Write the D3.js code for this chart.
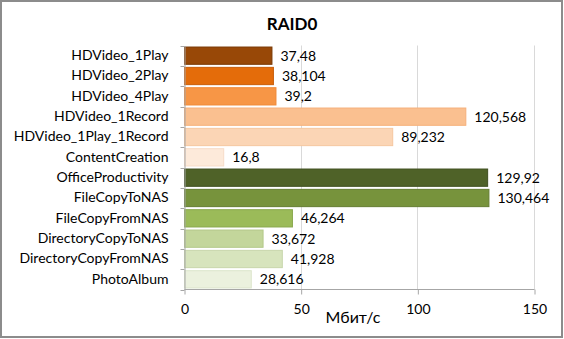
<!DOCTYPE html>
<html>
<head>
<meta charset="utf-8">
<script src="https://cdn.jsdelivr.net/npm/d3@7"></script>
<style>
  html, body { margin: 0; padding: 0; background: #fff; }
  svg { display: block; }
  text { font-family: Lato, "Open Sans", sans-serif; fill: #000; }
</style>
</head>
<body>
<svg id="chart" width="564" height="339"></svg>
<script>
// Throughput per test, Mbit/s
const categories = [
  "HDVideo_1Play", "HDVideo_2Play", "HDVideo_4Play", "HDVideo_1Record",
  "HDVideo_1Play_1Record", "ContentCreation", "OfficeProductivity",
  "FileCopyToNAS", "FileCopyFromNAS", "DirectoryCopyToNAS",
  "DirectoryCopyFromNAS", "PhotoAlbum"
];
const values = [37.48, 38.104, 39.2, 120.568, 89.232, 16.8, 129.92, 130.464, 46.264, 33.672, 41.928, 28.616];
const valueLabels = ["37,48", "38,104", "39,2", "120,568", "89,232", "16,8", "129,92", "130,464", "46,264", "33,672", "41,928", "28,616"];
const fills = ["#984807", "#E46C0A", "#F79646", "#FAC090", "#FBD5B5", "#FDEADA",
               "#4F6228", "#77933C", "#9BBB59", "#C3D69B", "#D7E4BD", "#EBF1DE"];
const strokes = ["#7A3905", "#C75C08", "#F08A38", "#F5B07A", "#F5C7A0", "#F7DCC8",
                 "#3F4E20", "#647D32", "#8AA84E", "#B3C88A", "#C8D6AC", "#DCE5CC"];
const xTicks = [0, 50, 100, 150];
const title = "RAID0";
const unitLabel = "Мбит/с";

const svg = d3.select("#chart");
const W = 564, H = 339;

// frame
svg.append("rect")
  .attr("x", 1).attr("y", 1).attr("width", W - 3).attr("height", H - 3)
  .attr("fill", "#fff").attr("stroke", "#8C8C8C").attr("stroke-width", 2);

const plot = { left: 184, right: 534, top: 45.5, bottom: 289.5 };

const x = d3.scaleLinear().domain([0, 150]).range([plot.left, plot.right]);
const y = d3.scaleBand().domain(categories).range([plot.top, plot.bottom])
  .paddingInner(0.15).paddingOuter(0.075);
const band = d3.scaleBand().domain(categories).range([plot.top, plot.bottom]);

// vertical gridlines
svg.append("g").selectAll("line")
  .data(xTicks.filter(t => t > 0))
  .join("line")
  .attr("x1", d => Math.round(x(d)) + 0.5).attr("x2", d => Math.round(x(d)) + 0.5)
  .attr("y1", plot.top).attr("y2", plot.bottom)
  .attr("stroke", "#D9D9D9").attr("stroke-width", 1);

// bars
svg.append("g").selectAll("rect")
  .data(categories)
  .join("rect")
  .attr("x", x(0) + 0.5)
  .attr("y", d => y(d))
  .attr("width", (d, i) => x(values[i]) - x(0))
  .attr("height", y.bandwidth())
  .attr("fill", (d, i) => fills[i])
  .attr("stroke", (d, i) => strokes[i])
  .attr("stroke-width", 1);

// value labels
svg.append("g").selectAll("text")
  .data(categories)
  .join("text")
  .attr("x", (d, i) => x(values[i]) + 9)
  .attr("y", d => y(d) + y.bandwidth() / 2)
  .attr("dy", "0.36em")
  .attr("font-size", 14)
  .text((d, i) => valueLabels[i]);

// category axis
const yAxis = d3.axisLeft(band).tickSize(0).tickPadding(16);
const gy = svg.append("g").attr("transform", `translate(${plot.left + 0.5},0)`).call(yAxis);
gy.select(".domain").attr("stroke", "#A6A6A6");
gy.selectAll("text").attr("font-size", 14).attr("font-family", "Lato, 'Open Sans', sans-serif").attr("fill", "#000");
// boundary ticks between categories
gy.append("g").selectAll("line")
  .data(d3.range(categories.length + 1))
  .join("line")
  .attr("x1", -4).attr("x2", 0)
  .attr("y1", i => Math.round(plot.top + i * band.step()) + 0.5)
  .attr("y2", i => Math.round(plot.top + i * band.step()) + 0.5)
  .attr("stroke", "#A6A6A6");

// value axis
const xAxis = d3.axisBottom(x).tickValues(xTicks).tickSize(5).tickPadding(10);
const gx = svg.append("g").attr("transform", `translate(0.5,${plot.bottom})`).call(xAxis);
gx.select(".domain").attr("stroke", "#A6A6A6").attr("d", `M${plot.left},0H${plot.right}`);
gx.selectAll(".tick line").attr("stroke", "#A6A6A6");
gx.selectAll("text").attr("font-size", 14).attr("font-family", "Lato, 'Open Sans', sans-serif").attr("fill", "#000");

// titles
svg.append("text")
  .attr("x", 292).attr("y", 30)
  .attr("text-anchor", "middle")
  .attr("font-size", 17).attr("font-weight", "bold")
  .text(title);

svg.append("text")
  .attr("x", 353).attr("y", 323)
  .attr("text-anchor", "middle")
  .attr("font-size", 16)
  .text(unitLabel);
</script>
</body>
</html>
